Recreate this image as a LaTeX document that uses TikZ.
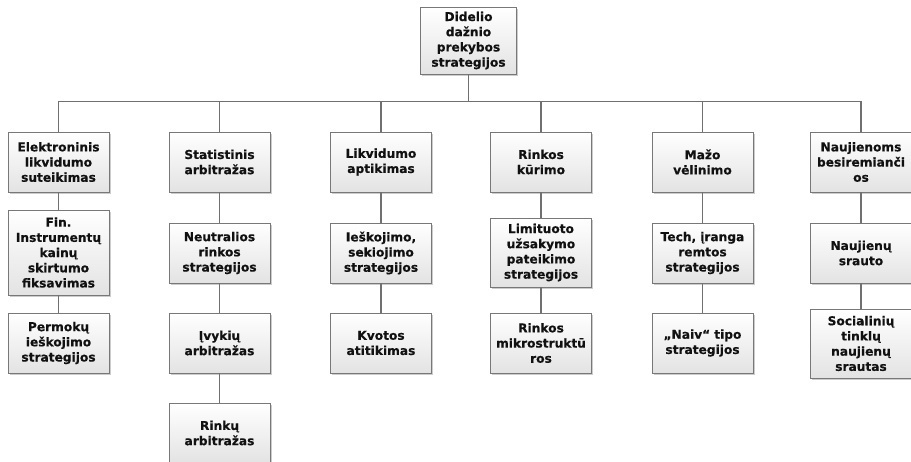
\documentclass[tikz,border=0pt]{standalone}
\usepackage{fontspec}
\setmainfont{DejaVu Sans}
\newfontfamily\boxfont[BoldFeatures={FakeBold=0.45}]{DejaVu Sans}
\usetikzlibrary{shadows,calc}
\definecolor{linegray}{HTML}{707070}
\definecolor{framegray}{HTML}{787878}
\definecolor{ink}{HTML}{111111}
\tikzset{
  box/.style={draw=framegray, line width=0.9pt, top color=white, bottom color=black!11,
    text=ink, font=\boxfont\bfseries\fontsize{12.2}{15.2}\selectfont, align=center,
    text width=101pt, inner sep=0pt, minimum height=60pt,
    drop shadow={shadow xshift=1.8pt, shadow yshift=-1.8pt, opacity=0.2, fill=black}},
  link/.style={draw=linegray, line width=1.1pt},
}
\begin{document}
\begin{tikzpicture}[x=1pt, y=-1pt]
\useasboundingbox (0,0) rectangle (911,461);
\fill[white] (0,0) rectangle (911,461);

% root
\node[box, text width=96pt, minimum height=67pt] (top) at (468.5,40.5) {Didelio\\dažnio\\prekybos\\strategijos};

% first level
\node[box] (c1) at (58.5,162) {Elektroninis\\likvidumo\\suteikimas};
\node[box] (c2) at (219.5,162) {Statistinis\\arbitražas};
\node[box] (c3) at (381,162) {Likvidumo\\aptikimas};
\node[box] (c4) at (541,162) {Rinkos\\kūrimo};
\node[box] (c5) at (702.5,162) {Mažo\\vėlinimo};
\node[box] (c6) at (861,162) {Naujienoms\\besiremianči\\os};

% second level
\node[box, minimum height=85pt] (c1b) at (58.5,252.5) {Fin.\\Instrumentų\\kainų\\skirtumo\\fiksavimas};
\node[box] (c2b) at (219.5,253) {Neutralios\\rinkos\\strategijos};
\node[box] (c3b) at (381,253) {Ieškojimo,\\sekiojimo\\strategijos};
\node[box, minimum height=69pt] (c4b) at (541,252.5) {Limituoto\\užsakymo\\pateikimo\\strategijos};
\node[box] (c5b) at (702.5,253) {Tech, įranga\\remtos\\strategijos};
\node[box] (c6b) at (861,253) {Naujienų\\srauto};

% third level
\node[box] (c1c) at (58.5,343) {Permokų\\ieškojimo\\strategijos};
\node[box] (c2c) at (219.5,343) {Įvykių\\arbitražas};
\node[box] (c3c) at (381,343) {Kvotos\\atitikimas};
\node[box] (c4c) at (541,343) {Rinkos\\mikrostruktū\\ros};
\node[box] (c5c) at (702.5,343) {„Naiv“ tipo\\strategijos};
\node[box, minimum height=69pt] (c6c) at (861,343.5) {Socialinių\\tinklų\\naujienų\\srautas};

% fourth level
\node[box] (c2d) at (219.5,433) {Rinkų\\arbitražas};

% tree connectors
\coordinate (bus) at ($(top.south)+(0,27)$);
\draw[link] (top.south) -- (bus);
\foreach \c in {c1,c2,c3,c4,c5,c6}
  \draw[link] (bus) -| (\c.north);
\foreach \a/\b in {c1/c1b,c1b/c1c,c2/c2b,c2b/c2c,c2c/c2d,c3/c3b,c3b/c3c,c4/c4b,c4b/c4c,c5/c5b,c5b/c5c,c6/c6b,c6b/c6c}
  \draw[link] (\a.south) -- (\b.north);
\end{tikzpicture}
\end{document}
